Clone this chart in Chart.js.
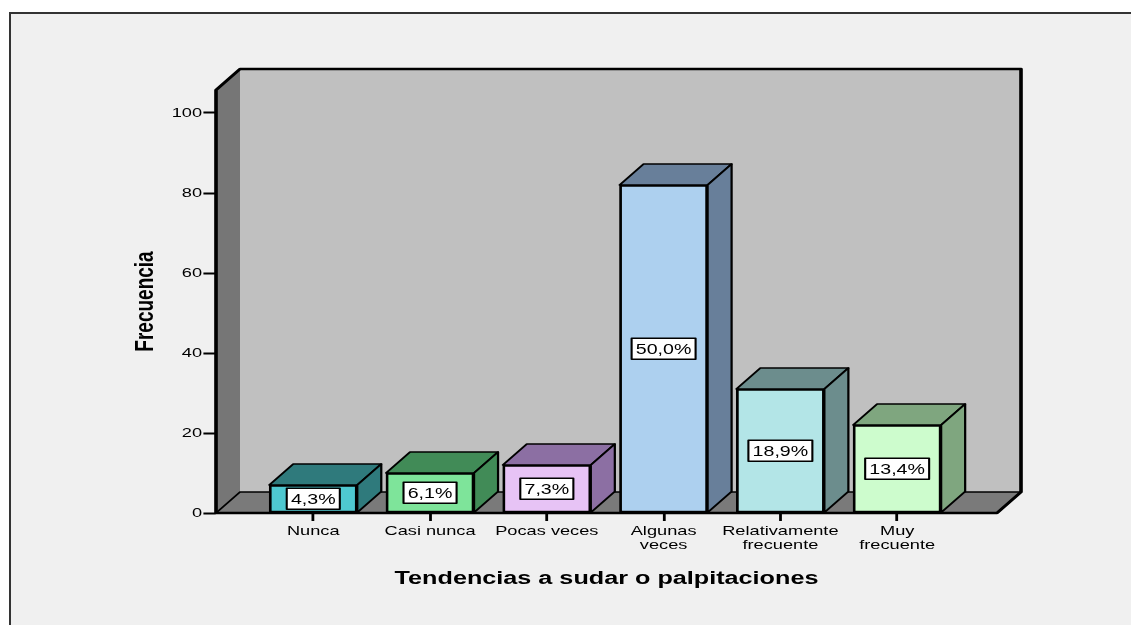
<!DOCTYPE html>
<html>
<head>
<meta charset="utf-8">
<script src="https://cdn.jsdelivr.net/npm/chart.js@4.4.1/dist/chart.umd.min.js"></script>
<style>
  html, body { margin: 0; padding: 0; background: #fff; overflow: hidden; }
  #frame { position: absolute; left: 9px; top: 12px; width: 1200px; height: 700px; background: #f0f0f0; border: 2px solid #333; }
  #wrap { position: absolute; left: 0; top: 0; width: 1131px; height: 625px; }
</style>
</head>
<body>
<div id="frame"></div>
<div id="wrap"><canvas id="chart"></canvas></div>
<script>
// data
const categories = ['Nunca', 'Casi nunca', 'Pocas veces', ['Algunas', 'veces'], ['Relativamente', 'frecuente'], ['Muy', 'frecuente']];
const counts = [7, 10, 12, 82, 31, 22];
const percentLabels = ['4,3%', '6,1%', '7,3%', '50,0%', '18,9%', '13,4%'];
const yTicks = [0, 20, 40, 60, 80, 100];

const frontColors = ['#4ec8d0', '#7ee49a', '#e7c3f5', '#add0ef', '#b3e5e7', '#cdfccd'];
const sideColors = ['#2f7a7c', '#418b57', '#8c6fa3', '#687f9a', '#6c8d8d', '#7fa67f'];

// the original picture is stretched sideways, so everything is drawn scaled in x
const SX = 1.4;
const DX = 24 / SX;   // depth of the 3d boxes
const DY = 21;
const FONT = '"Liberation Sans", Arial, sans-serif';

function poly(ctx, pts, fill, stroke) {
  ctx.beginPath();
  pts.forEach((p, i) => i ? ctx.lineTo(p[0], p[1]) : ctx.moveTo(p[0], p[1]));
  ctx.closePath();
  if (fill) { ctx.fillStyle = fill; ctx.fill(); }
  if (stroke) { ctx.strokeStyle = stroke; ctx.stroke(); }
}

const box3d = {
  id: 'box3d',
  beforeDraw(chart) {
    const ctx = chart.ctx;
    const { left, right, top, bottom } = chart.chartArea;
    ctx.save();
    ctx.scale(SX, 1);
    ctx.lineJoin = 'round';

    // back wall, left wall, floor
    poly(ctx, [[left + DX, top - DY], [right + DX, top - DY], [right + DX, bottom - DY], [left + DX, bottom - DY]], '#c0c0c0');
    poly(ctx, [[left, bottom], [left, top], [left + DX, top - DY], [left + DX, bottom - DY]], '#767676');
    ctx.lineWidth = 1.4;
    poly(ctx, [[left, bottom], [left + DX, bottom - DY], [right + DX, bottom - DY], [right, bottom]], '#7a7a7a', '#000');

    // outer outline
    ctx.lineWidth = 2.6;
    poly(ctx, [[left, bottom], [left, top], [left + DX, top - DY], [right + DX, top - DY], [right + DX, bottom - DY], [right, bottom]], null, '#000');
  },
  afterDatasetsDraw(chart) {
    const ctx = chart.ctx;
    ctx.lineJoin = 'round';
    chart.getDatasetMeta(0).data.forEach((bar, i) => {
      const l = bar.x - bar.width / 2, r = bar.x + bar.width / 2;
      const t = bar.y, b = bar.base;
      ctx.lineWidth = 1.6;
      poly(ctx, [[l, t], [l + DX, t - DY], [r + DX, t - DY], [r, t]], sideColors[i], '#000');
      poly(ctx, [[r, t], [r + DX, t - DY], [r + DX, b - DY], [r, b]], sideColors[i], '#000');

      // percentage box
      ctx.font = '14px ' + FONT;
      const w = ctx.measureText(percentLabels[i]).width + 6;
      const h = 21;
      const cy = (t + b) / 2;
      ctx.fillStyle = '#fff';
      ctx.fillRect(bar.x - w / 2, cy - h / 2, w, h);
      ctx.lineWidth = 1.5;
      ctx.strokeStyle = '#000';
      ctx.strokeRect(bar.x - w / 2, cy - h / 2, w, h);
      ctx.fillStyle = '#000';
      ctx.textAlign = 'center';
      ctx.textBaseline = 'middle';
      ctx.fillText(percentLabels[i], bar.x, cy + 1);
    });
  },
  afterDraw(chart) {
    chart.ctx.restore();
  }
};

const ctx = document.getElementById('chart').getContext('2d');
new Chart(ctx, {
  type: 'bar',
  data: {
    datasets: [{
      data: counts.map((v, i) => ({ x: i, y: v })),
      backgroundColor: frontColors,
      borderColor: '#000',
      borderWidth: 2,
      borderSkipped: false,
      barThickness: 88 / SX
    }]
  },
  plugins: [box3d],
  options: {
    responsive: true,
    maintainAspectRatio: false,
    animation: false,
    layout: {
      autoPadding: false,
      padding: { left: 90, right: 1131 - 997 / SX, top: 90, bottom: 25 }
    },
    plugins: {
      legend: { display: false },
      tooltip: { enabled: false }
    },
    scales: {
      x: {
        type: 'linear',
        offset: false,
        min: -0.833,
        max: 5.855,
        bounds: 'data',
        afterBuildTicks: s => { s.ticks = categories.map((c, i) => ({ value: i })); },
        afterFit: s => { s.height = 87; },
        border: { display: false },
        grid: { offset: false, drawOnChartArea: false, tickLength: 8, tickWidth: 2, tickColor: '#000' },
        ticks: {
          autoSkip: false,
          maxRotation: 0,
          minRotation: 0,
          padding: 3,
          color: '#000',
          font: { family: FONT, size: 13, lineHeight: 1.1 },
          callback: v => categories[v]
        },
        title: {
          display: true,
          text: 'Tendencias a sudar o palpitaciones',
          color: '#000',
          font: { family: FONT, size: 18, weight: 'bold' },
          padding: { top: 0, bottom: 10 }
        }
      },
      y: {
        min: 0,
        max: 105.75,
        bounds: 'data',
        afterBuildTicks: s => { s.ticks = yTicks.map(v => ({ value: v })); },
        afterFit: s => { s.width = 216 / SX - 90; },
        border: { display: false },
        grid: { drawOnChartArea: false, tickLength: 9, tickWidth: 2, tickColor: '#000' },
        ticks: {
          padding: 1,
          color: '#000',
          font: { family: FONT, size: 13 }
        },
        title: {
          display: true,
          text: 'Frecuencia',
          color: '#000',
          font: { family: FONT, size: 19, weight: 'bold' },
          padding: { top: 3, bottom: 0 }
        }
      }
    }
  }
});
</script>
</body>
</html>
